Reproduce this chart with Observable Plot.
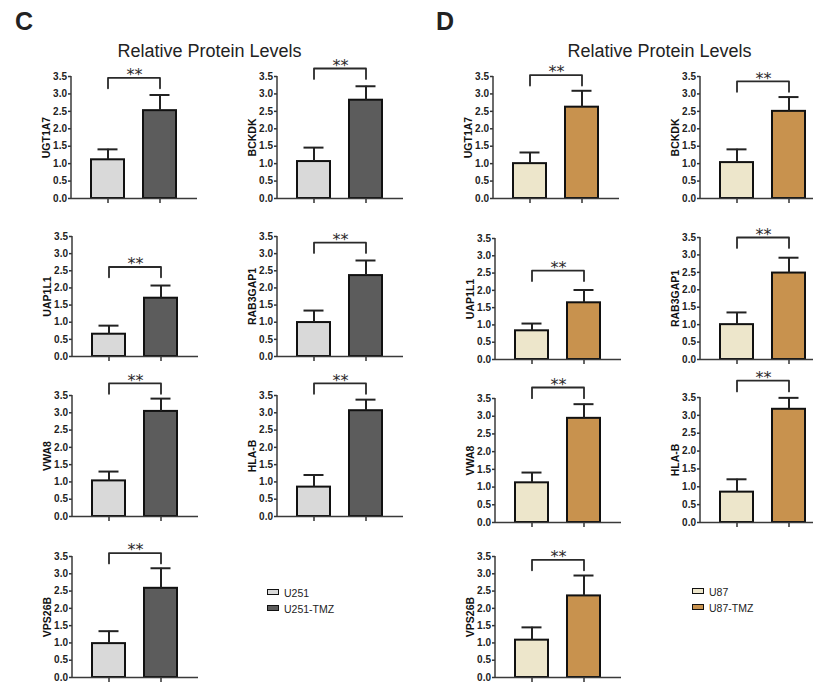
<!DOCTYPE html>
<html><head><meta charset="utf-8">
<script src="https://cdn.jsdelivr.net/npm/d3@7"></script>
<script src="https://cdn.jsdelivr.net/npm/@observablehq/plot@0.6"></script>
<style>
html,body{margin:0;padding:0;background:#fff;}
#root{position:relative;width:813px;height:683px;overflow:hidden;background:#fff;font-family:"Liberation Sans",Arial,sans-serif;color:#222;}
.abs{position:absolute;white-space:nowrap;line-height:1;}
.sw{position:absolute;width:10px;height:4px;border:1.5px solid #111;}
</style></head><body><div id="root"></div>
<script>
// ---- data ----
const genes = ["UGT1A7", "BCKDK", "UAP1L1", "RAB3GAP1", "VWA8", "HLA-B", "VPS26B"];
const yTicks = [0, 0.5, 1.0, 1.5, 2.0, 2.5, 3.0, 3.5];
const sigLabel = "**";

const groupsC = ["U251", "U251-TMZ"];
const colorsC = ["#d9d9d9", "#5c5c5c"];
const ctrlC    = [1.11, 1.06, 0.65, 0.99, 1.03, 0.85, 0.98];
const ctrlErrC = [1.41, 1.46, 0.90, 1.34, 1.30, 1.20, 1.34];
const tmzC     = [2.52, 2.82, 1.70, 2.36, 3.04, 3.06, 2.58];
const tmzErrC  = [2.97, 3.22, 2.07, 2.80, 3.41, 3.38, 3.16];
const sigC     = [3.46, 3.73, 2.61, 3.32, 3.85, 3.85, 3.60];

const groupsD = ["U87", "U87-TMZ"];
const colorsD = ["#ede6cb", "#c8924e"];
const ctrlD    = [1.00, 1.03, 0.83, 1.00, 1.12, 0.85, 1.08];
const ctrlErrD = [1.32, 1.41, 1.04, 1.35, 1.41, 1.21, 1.45];
const tmzD     = [2.62, 2.50, 1.64, 2.48, 2.94, 3.17, 2.36];
const tmzErrD  = [3.09, 2.91, 2.01, 2.92, 3.34, 3.49, 2.95];
const sigD     = [3.54, 3.36, 2.57, 3.50, 3.81, 3.97, 3.40];

// ---- layout (pixel positions of each small chart: y-axis x, y of 3.5, y of 0) ----
const layoutC = [[71,76,198],[277,76,198],[72,236,356],[277,236,356],[72,395,516],[277,395,516],[72,556,677]];
const layoutD = [[493,76,198],[700,76,198],[495,238,359],[700,237,359],[495,398,522],[700,397,522],[495,556,677]];

const root = document.getElementById("root");
const NS = "http://www.w3.org/2000/svg";

function addText(txt, left, baseline, size, weight, anchorCenter) {
  const d = document.createElement("div");
  d.className = "abs";
  d.textContent = txt;
  d.style.fontSize = size + "px";
  d.style.fontWeight = weight;
  d.style.top = (baseline - 0.8465 * size) + "px";
  if (anchorCenter) { d.style.left = (left - 200) + "px"; d.style.width = "400px"; d.style.textAlign = "center"; }
  else d.style.left = left + "px";
  root.appendChild(d);
}

function chart(gene, groups, colors, ctrl, ctrlErr, tmz, tmzErr, sig, lay) {
  const [axisX, yTop, yBot] = lay;
  const mL = 44, mT = 32, mB = 12, frameW = 126, drop = 0.3;
  const rows = [
    {group: groups[0], value: ctrl, err: ctrlErr},
    {group: groups[1], value: tmz, err: tmzErr}
  ];
  const bracket = [
    {group: groups[0], y: sig - drop}, {group: groups[0], y: sig},
    {group: groups[1], y: sig}, {group: groups[1], y: sig - drop}
  ];
  const yAxisLine = (index, scales, values, dims) => {
    const l = document.createElementNS(NS, "line");
    l.setAttribute("x1", dims.marginLeft); l.setAttribute("x2", dims.marginLeft);
    l.setAttribute("y1", dims.marginTop); l.setAttribute("y2", dims.height - dims.marginBottom + 0.75);
    l.setAttribute("stroke", "#3a3a3a"); l.setAttribute("stroke-width", 1.5);
    return l;
  };
  const svg = Plot.plot({
    width: mL + frameW, height: mT + (yBot - yTop) + mB,
    marginLeft: mL, marginRight: 0, marginTop: mT, marginBottom: mB,
    style: {fontFamily: "Liberation Sans, Arial, sans-serif", fontSize: "10px", fontWeight: "bold",
            color: "#333", background: "transparent", overflow: "visible"},
    x: {domain: groups, paddingInner: 0.365, paddingOuter: 0.394},
    y: {domain: [0, 3.5]},
    color: {domain: groups, range: colors},
    marks: [
      Plot.axisY({ticks: yTicks, tickFormat: d => d.toFixed(1), tickSize: 3, tickPadding: 1.5,
                  label: null, strokeWidth: 1.5, fill: "#222"}),
      Plot.axisX({tickSize: 5, tickFormat: () => "", label: null, strokeWidth: 1.5}),
      Plot.text([gene], {frameAnchor: "left", textAnchor: "middle", lineAnchor: "middle",
                         text: d => d, rotate: -90, dx: -25,
                         fontSize: 10.5, fontWeight: "bold", fill: "#111"}),
      Plot.barY(rows, {x: "group", y: "value", fill: "group", stroke: "#111", strokeWidth: 2}),
      Plot.ruleX(rows, {x: "group", y1: "value", y2: "err", stroke: "#222", strokeWidth: 2}),
      Plot.tickY(rows, {x: "group", y: "err", stroke: "#222", strokeWidth: 2, insetLeft: 6.5, insetRight: 6.5}),
      Plot.line(bracket, {x: "group", y: "y", stroke: "#2a2a2a", strokeWidth: 1.8}),
      Plot.text([sig], {y: d => d, frameAnchor: "middle", textAnchor: "middle", text: () => sigLabel,
                        fontSize: 16, fontFamily: "DejaVu Sans, sans-serif",
                        fontWeight: "normal", fill: "#2a2a2a", dy: -3}),
      Plot.ruleY([0], {stroke: "#3a3a3a", strokeWidth: 1.5}),
      yAxisLine
    ]
  });
  svg.style.position = "absolute";
  svg.style.left = (axisX - mL) + "px";
  svg.style.top = (yTop - mT) + "px";
  root.appendChild(svg);
}

genes.forEach((g, i) => {
  chart(g, groupsC, colorsC, ctrlC[i], ctrlErrC[i], tmzC[i], tmzErrC[i], sigC[i], layoutC[i]);
  chart(g, groupsD, colorsD, ctrlD[i], ctrlErrD[i], tmzD[i], tmzErrD[i], sigD[i], layoutD[i]);
});

// panel letters & titles
addText("C", 15, 30, 25, "bold", false);
addText("D", 436, 30, 25, "bold", false);
addText("Relative Protein Levels", 209.5, 57, 18, "normal", true);
addText("Relative Protein Levels", 659.5, 57, 18, "normal", true);

// legends
function legend(groups, colors, x, y0) {
  groups.forEach((g, i) => {
    const y = y0 + i * 16;
    const s = document.createElement("div");
    s.className = "sw";
    s.style.left = x + "px"; s.style.top = y + "px"; s.style.background = colors[i];
    root.appendChild(s);
    addText(g, x + 17, y + 7.5, 10.5, "normal", false);
  });
}
legend(groupsC, colorsC, 267, 589);
legend(groupsD, colorsD, 692, 588);
</script>
</body></html>
